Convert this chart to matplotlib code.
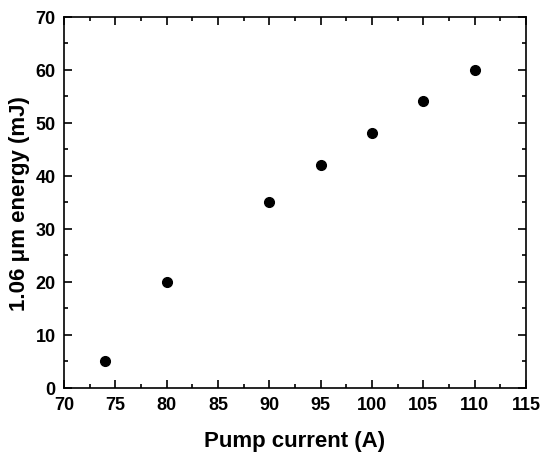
import matplotlib
matplotlib.use("Agg")
import matplotlib.pyplot as plt
from matplotlib.ticker import MultipleLocator

current = [74, 80, 90, 95, 100, 105, 110]
energy = [5, 20, 35, 42, 48, 54, 60]

plt.rcParams['font.family'] = ['Liberation Sans', 'DejaVu Sans']
plt.rcParams['font.weight'] = 'bold'

fig = plt.figure(figsize=(5.5, 4.6), dpi=100)
ax = fig.add_axes([64/550, 1-389/460, (526-64)/550, (389-17.5)/460])
ax.plot(current, energy, 'o', color='black', markersize=7)

ax.set_xlim(70, 115)
ax.set_ylim(0, 70)
ax.xaxis.set_major_locator(MultipleLocator(5))
ax.xaxis.set_minor_locator(MultipleLocator(2.5))
ax.yaxis.set_major_locator(MultipleLocator(10))
ax.yaxis.set_minor_locator(MultipleLocator(5))
ax.tick_params(which='both', direction='in', top=True, right=True, width=1.2, labelsize=13)
ax.tick_params(which='major', length=6)
ax.tick_params(which='minor', length=3)
ax.tick_params(axis='x', pad=6)
ax.tick_params(axis='y', pad=6)
for s in ax.spines.values():
    s.set_linewidth(1.2)
for lab in ax.get_xticklabels() + ax.get_yticklabels():
    lab.set_fontweight('bold')

ax.set_xlabel('Pump current (A)', fontsize=16, fontweight='bold', labelpad=12)
ax.set_ylabel('1.06 μm energy (mJ)', fontsize=16, fontweight='bold', labelpad=4)

fig.savefig('out.png', dpi=100)
